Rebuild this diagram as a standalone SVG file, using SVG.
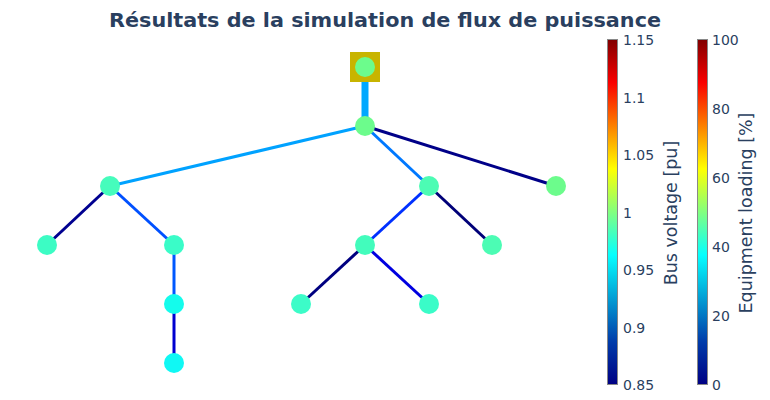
<svg xmlns="http://www.w3.org/2000/svg" width="770" height="400" viewBox="0 0 770 400">
<style>
.t{font-family:"DejaVu Sans","Open Sans",sans-serif;fill:#2a3f5f}
.tick{font-size:14px}
.ct{font-size:17.5px}
.e{fill:none;stroke-width:3;stroke-linecap:butt}
.thick{stroke-width:7}
.bus{stroke:none}
</style>
<defs>
<linearGradient id="jet" x1="0" y1="1" x2="0" y2="0">
<stop offset="0" stop-color="rgb(0,0,131)"/>
<stop offset="0.125" stop-color="rgb(0,60,170)"/>
<stop offset="0.375" stop-color="rgb(5,255,255)"/>
<stop offset="0.625" stop-color="rgb(255,255,0)"/>
<stop offset="0.875" stop-color="rgb(250,0,0)"/>
<stop offset="1" stop-color="rgb(128,0,0)"/>
</linearGradient>
</defs>
<rect width="770" height="400" fill="#fff"/>
<text class="t" x="385" y="27" text-anchor="middle" font-size="20" font-weight="bold" textLength="552" lengthAdjust="spacingAndGlyphs">Résultats de la simulation de flux de puissance</text>
<g id="connectors">
<line class="e thick" x1="365" y1="67" x2="365" y2="126" stroke="#00a8ff"/>
<line class="e" x1="365" y1="126" x2="110" y2="186" stroke="#00a2ff"/>
<line class="e" x1="365" y1="126" x2="429" y2="186" stroke="#0078ff"/>
<line class="e" x1="365" y1="126" x2="556" y2="186" stroke="#000088"/>
<line class="e" x1="110" y1="186" x2="47" y2="245" stroke="#000090"/>
<line class="e" x1="110" y1="186" x2="174" y2="245" stroke="#0050ff"/>
<line class="e" x1="174" y1="245" x2="174" y2="304" stroke="#0058ff"/>
<line class="e" x1="174" y1="304" x2="174" y2="363" stroke="#0000d0"/>
<line class="e" x1="429" y1="186" x2="365" y2="245" stroke="#0030ff"/>
<line class="e" x1="429" y1="186" x2="492" y2="245" stroke="#000078"/>
<line class="e" x1="365" y1="245" x2="301" y2="304" stroke="#000080"/>
<line class="e" x1="365" y1="245" x2="429" y2="304" stroke="#0000e0"/>
</g>
<g id="ext_grid"><rect x="350" y="52" width="30" height="30" fill="#c8b400"/></g>
<g id="bus0"><circle class="bus" cx="365" cy="67" r="10" fill="#6cfc8c"/></g>
<g id="bus1"><circle class="bus" cx="365" cy="126" r="10" fill="#6cfc8c"/></g>
<g id="bus2"><circle class="bus" cx="110" cy="186" r="10" fill="#46fcbc"/></g>
<g id="bus3"><circle class="bus" cx="429" cy="186" r="10" fill="#4cfcb4"/></g>
<g id="bus4"><circle class="bus" cx="556" cy="186" r="10" fill="#6cfc8c"/></g>
<g id="bus5"><circle class="bus" cx="47" cy="245" r="10" fill="#3cfcc4"/></g>
<g id="bus6"><circle class="bus" cx="174" cy="245" r="10" fill="#3afcc8"/></g>
<g id="bus7"><circle class="bus" cx="365" cy="245" r="10" fill="#42fcbc"/></g>
<g id="bus8"><circle class="bus" cx="492" cy="245" r="10" fill="#4cfcb4"/></g>
<g id="bus9"><circle class="bus" cx="174" cy="304" r="10" fill="#14fcec"/></g>
<g id="bus10"><circle class="bus" cx="301" cy="304" r="10" fill="#3cfcc8"/></g>
<g id="bus11"><circle class="bus" cx="429" cy="304" r="10" fill="#3afcc8"/></g>
<g id="bus12"><circle class="bus" cx="174" cy="363" r="10" fill="#10f8f4"/></g>
<g id="colorbar_voltage">
<rect x="607.5" y="39.5" width="10" height="345" fill="url(#jet)" stroke="#888" stroke-width="1"/>
<g class="t tick">
<text x="623" y="45">1.15</text>
<text x="623" y="103">1.1</text>
<text x="623" y="160">1.05</text>
<text x="623" y="218">1</text>
<text x="623" y="275">0.95</text>
<text x="623" y="333">0.9</text>
<text x="623" y="390">0.85</text>
</g>
<text class="t ct" transform="translate(677,213) rotate(-90)" text-anchor="middle">Bus voltage [pu]</text>
</g>
<g id="colorbar_loading">
<rect x="697.5" y="39.5" width="10" height="345" fill="url(#jet)" stroke="#888" stroke-width="1"/>
<g class="t tick">
<text x="712" y="45">100</text>
<text x="712" y="114">80</text>
<text x="712" y="183">60</text>
<text x="712" y="252">40</text>
<text x="712" y="321">20</text>
<text x="712" y="390">0</text>
</g>
<text class="t ct" transform="translate(752,213) rotate(-90)" text-anchor="middle">Equipment loading [%]</text>
</g>
</svg>
